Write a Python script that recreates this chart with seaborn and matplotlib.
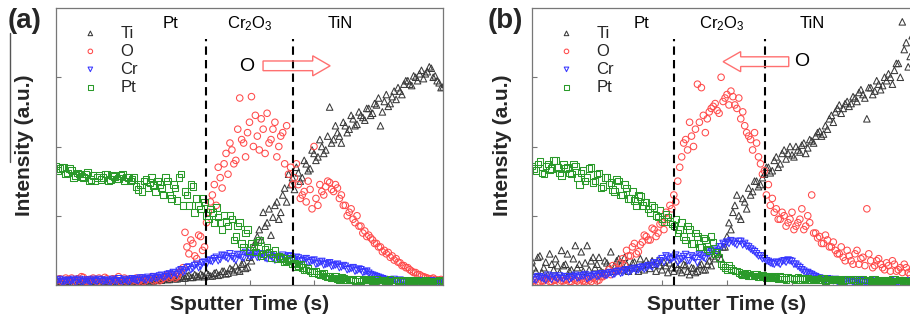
import numpy as np
import matplotlib
matplotlib.use("Agg")
import matplotlib.pyplot as plt
from matplotlib.patches import FancyArrow
from matplotlib.lines import Line2D
import seaborn as sns

# ---------------- data (intensity, a.u.) ----------------
series_names = ["Ti", "O", "Cr", "Pt"]
layer_labels = ["Pt", r"Cr$_2$O$_3$", "TiN"]

# panel (a), first pass of samples
ti_a = [0.04,0.06,0.03,0.05,0.04,0.07,0.03,0.05,0.04,0.06,
        0.05,0.03,0.06,0.04,0.05,0.07,0.04,0.06,0.05,0.04,
        0.06,0.05,0.07,0.06,0.08,0.06,0.09,0.07,0.10,0.08,
        0.11,0.09,0.12,0.10,0.14,0.11,0.13,0.16,0.12,0.15,
        0.13,0.18,0.15,0.20,0.17,0.22,0.28,0.20,0.32,0.26,
        0.35,0.62,0.80,1.05,0.90,0.72,1.15,0.95,1.30,1.20,
        1.45,1.38,1.62,1.55,1.75,1.68,1.90,1.85,2.00,1.95,
        2.57,2.10,2.20,2.05,2.30,2.25,2.40,2.32,2.45,2.38,
        2.55,2.48,2.60,2.30,2.65,2.58,2.72,2.68,2.80,2.90,
        2.95,2.88,3.00,3.05,2.98,3.08,3.13,3.02,2.92,2.86]
o_a = [0.06,0.09,0.05,0.08,0.10,0.06,0.07,0.11,0.05,0.08,
       0.07,0.10,0.06,0.09,0.05,0.08,0.12,0.07,0.06,0.09,
       0.08,0.05,0.10,0.07,0.09,0.06,0.11,0.08,0.12,0.10,
       0.15,0.12,0.20,0.76,0.45,0.60,0.38,0.70,0.55,1.05,
       1.30,1.15,1.55,1.75,1.60,1.95,1.80,2.70,2.05,2.20,
       2.72,2.45,1.95,2.25,2.48,2.10,2.35,2.00,2.20,2.30,
       1.70,1.55,1.45,1.30,1.20,1.38,2.00,1.15,1.35,1.42,
       1.48,1.35,1.40,1.30,1.15,1.05,0.95,1.00,0.85,0.78,
       0.72,0.65,0.60,0.55,0.50,0.47,0.42,0.38,0.32,0.28,
       0.25,0.20,0.18,0.15,0.12,0.10,0.09,0.08,0.07,0.06]
cr_a = [0.05,0.08,0.04,0.07,0.06,0.03,0.08,0.05,0.07,0.04,
        0.06,0.08,0.05,0.07,0.04,0.06,0.09,0.05,0.07,0.06,
        0.08,0.06,0.10,0.07,0.09,0.12,0.10,0.14,0.12,0.16,
        0.18,0.15,0.22,0.20,0.26,0.24,0.30,0.27,0.33,0.36,
        0.34,0.40,0.37,0.42,0.38,0.41,0.36,0.43,0.39,0.45,
        0.42,0.46,0.40,0.44,0.38,0.42,0.36,0.40,0.43,0.38,
        0.41,0.37,0.39,0.35,0.38,0.33,0.36,0.31,0.34,0.30,
        0.32,0.28,0.30,0.26,0.27,0.23,0.25,0.21,0.22,0.19,
        0.17,0.14,0.12,0.10,0.08,0.07,0.06,0.05,0.07,0.04,
        0.06,0.05,0.04,0.06,0.05,0.04,0.06,0.05,0.04,0.05]
pt_a = [1.72,1.68,1.70,1.62,1.66,1.58,1.60,1.55,1.63,1.52,
        1.50,1.58,1.55,1.60,1.52,1.57,1.54,1.60,1.56,1.50,
        1.55,1.38,1.35,1.52,1.48,1.44,1.50,1.40,1.55,1.30,
        1.45,1.22,1.60,1.35,1.15,1.42,1.25,1.10,1.20,0.95,
        1.05,1.12,0.90,1.00,0.85,0.95,0.70,0.90,0.55,0.80,
        0.60,0.48,0.65,0.45,0.55,0.40,0.50,0.42,0.38,0.35,
        0.38,0.32,0.28,0.25,0.22,0.20,0.18,0.16,0.15,0.13,
        0.12,0.10,0.09,0.11,0.08,0.09,0.07,0.08,0.06,0.08,
        0.07,0.06,0.08,0.05,0.07,0.06,0.05,0.07,0.06,0.05,
        0.06,0.05,0.07,0.05,0.06,0.04,0.06,0.05,0.07,0.06]

# panel (a), second pass of samples (interleaved in time)
ti_a2 = [0.05,0.03,0.06,0.04,0.07,0.05,0.04,0.06,0.03,0.05,
         0.07,0.04,0.05,0.06,0.03,0.05,0.06,0.04,0.07,0.05,
         0.04,0.07,0.05,0.08,0.06,0.09,0.07,0.10,0.08,0.11,
         0.09,0.12,0.10,0.13,0.11,0.15,0.12,0.14,0.18,0.13,
         0.17,0.14,0.20,0.16,0.24,0.19,0.22,0.30,0.24,0.40,
         0.55,0.70,0.65,0.85,1.10,0.98,1.20,1.05,1.40,1.60,
         1.55,1.70,1.50,1.80,1.65,1.95,1.80,2.10,1.90,2.15,
         2.05,2.30,2.15,2.35,2.20,2.45,2.30,2.50,2.42,2.55,
         2.45,2.62,2.70,2.50,2.75,2.62,2.80,2.85,2.75,2.95,
         2.90,3.02,2.95,3.10,3.05,3.15,3.00,2.95,2.85,2.90]
o_a2 = [0.08,0.05,0.10,0.07,0.06,0.09,0.12,0.06,0.08,0.10,
        0.05,0.08,0.11,0.06,0.09,0.07,0.05,0.10,0.08,0.06,
        0.10,0.07,0.05,0.09,0.12,0.08,0.06,0.10,0.14,0.12,
        0.10,0.18,0.25,0.55,0.65,0.42,0.72,0.50,0.90,1.20,
        1.45,1.70,1.40,1.90,2.05,1.75,2.25,2.10,1.85,2.35,
        2.00,2.15,2.40,1.90,2.05,2.25,1.85,2.15,1.75,1.60,
        1.45,1.75,1.25,1.35,1.50,1.10,1.25,1.45,1.30,1.50,
        1.38,1.45,1.25,1.15,1.00,1.10,0.90,0.85,0.75,0.70,
        0.68,0.60,0.55,0.48,0.45,0.40,0.36,0.33,0.28,0.25,
        0.22,0.18,0.15,0.13,0.11,0.09,0.10,0.07,0.08,0.05]
cr_a2 = [0.07,0.04,0.06,0.05,0.08,0.06,0.04,0.07,0.05,0.08,
         0.05,0.07,0.06,0.04,0.08,0.05,0.06,0.08,0.05,0.09,
         0.07,0.10,0.08,0.11,0.09,0.10,0.13,0.11,0.15,0.14,
         0.17,0.20,0.18,0.25,0.22,0.28,0.25,0.32,0.30,0.35,
         0.38,0.35,0.43,0.40,0.45,0.38,0.44,0.40,0.47,0.41,
         0.44,0.40,0.45,0.39,0.43,0.38,0.41,0.37,0.40,0.42,
         0.36,0.40,0.34,0.37,0.32,0.35,0.30,0.33,0.29,0.31,
         0.27,0.29,0.25,0.28,0.22,0.24,0.20,0.23,0.18,0.20,
         0.15,0.13,0.11,0.09,0.07,0.06,0.08,0.05,0.06,0.05,
         0.04,0.06,0.05,0.04,0.06,0.05,0.04,0.05,0.06,0.04]
pt_a2 = [1.65,1.70,1.60,1.68,1.55,1.62,1.57,1.60,1.50,1.58,
         1.55,1.52,1.60,1.50,1.58,1.53,1.58,1.50,1.55,1.52,
         1.42,1.45,1.50,1.40,1.55,1.35,1.45,1.30,1.50,1.25,
         1.40,1.55,1.15,1.30,1.45,1.05,1.15,1.25,1.00,1.10,
         0.90,0.98,0.80,0.92,1.00,0.65,0.85,0.60,0.75,0.50,
         0.55,0.62,0.42,0.52,0.48,0.45,0.38,0.40,0.33,0.36,
         0.30,0.27,0.30,0.22,0.24,0.18,0.20,0.15,0.17,0.12,
         0.10,0.12,0.08,0.10,0.07,0.09,0.06,0.09,0.07,0.05,
         0.08,0.06,0.05,0.07,0.06,0.08,0.05,0.06,0.07,0.05,
         0.07,0.06,0.05,0.06,0.07,0.05,0.06,0.04,0.05,0.07]

# panel (b), first pass of samples
ti_b = [0.35,0.20,0.42,0.25,0.15,0.30,0.38,0.18,0.28,0.45,
        0.22,0.57,0.30,0.20,0.57,0.35,0.25,0.40,0.18,0.32,
        0.48,0.26,0.38,0.22,0.30,0.25,0.33,0.20,0.28,0.35,
        0.24,0.30,0.36,0.22,0.28,0.32,0.20,0.25,0.18,0.28,
        0.15,0.24,0.20,0.30,0.22,0.35,0.42,0.50,0.38,0.55,
        0.90,1.05,1.30,0.95,1.20,1.40,1.35,1.50,1.45,1.60,
        1.70,1.65,1.85,1.75,1.95,1.90,1.88,2.00,1.92,2.05,
        1.98,2.08,2.15,2.22,2.18,2.25,2.45,2.50,2.60,2.55,
        2.65,2.62,2.70,2.78,2.75,2.40,2.85,2.80,2.90,2.88,
        2.95,3.00,3.10,3.20,3.80,3.50,3.30,3.60,3.75,3.90]
o_b = [0.05,0.08,0.04,0.06,0.09,0.05,0.07,0.04,0.06,0.08,
       0.05,0.07,0.04,0.06,0.08,0.05,0.09,0.07,0.12,0.18,
       0.15,0.25,0.22,0.38,0.50,0.42,0.60,0.48,0.62,0.70,
       0.65,0.80,0.75,0.90,1.05,1.15,1.30,1.50,1.85,2.10,
       2.35,2.00,2.90,2.85,2.20,2.50,2.58,2.52,3.00,2.70,
       2.60,2.72,2.55,2.40,2.30,2.15,1.95,2.05,1.75,1.65,
       1.45,1.25,1.10,0.95,1.00,0.90,1.05,0.85,0.95,0.80,
       1.00,1.30,0.75,0.70,0.60,0.65,0.55,0.50,0.45,0.40,
       0.50,0.35,0.45,0.30,0.40,1.10,0.35,0.28,0.38,0.25,
       0.32,0.20,0.30,0.22,0.18,0.25,0.15,0.20,0.17,0.15]
cr_b = [0.10,0.07,0.12,0.09,0.14,0.08,0.11,0.13,0.09,0.12,
        0.10,0.14,0.11,0.13,0.09,0.12,0.15,0.13,0.16,0.14,
        0.18,0.16,0.20,0.18,0.22,0.20,0.24,0.22,0.26,0.25,
        0.28,0.32,0.30,0.38,0.42,0.36,0.40,0.33,0.38,0.44,
        0.35,0.40,0.32,0.42,0.38,0.46,0.50,0.48,0.55,0.58,
        0.60,0.62,0.58,0.63,0.60,0.55,0.50,0.45,0.42,0.38,
        0.34,0.31,0.33,0.30,0.35,0.36,0.34,0.30,0.25,0.20,
        0.18,0.15,0.12,0.10,0.08,0.09,0.07,0.08,0.06,0.07,
        0.05,0.06,0.04,0.07,0.05,0.04,0.06,0.05,0.04,0.05,
        0.04,0.06,0.05,0.04,0.05,0.03,0.05,0.04,0.05,0.04]
pt_b = [1.72,1.65,1.78,1.60,1.75,1.68,1.80,1.62,1.74,1.70,
        1.60,1.72,1.45,1.65,1.55,1.70,1.50,1.62,1.42,1.55,
        1.48,1.35,1.50,1.30,1.40,1.25,1.22,1.30,1.15,1.20,
        1.05,1.12,0.98,0.95,1.02,0.92,0.85,0.75,0.90,0.65,
        0.80,0.60,0.70,0.55,0.65,0.50,0.62,0.48,0.30,0.25,
        0.28,0.22,0.20,0.16,0.15,0.14,0.13,0.15,0.12,0.13,
        0.12,0.11,0.10,0.12,0.09,0.11,0.10,0.08,0.10,0.09,
        0.10,0.08,0.09,0.07,0.10,0.08,0.07,0.09,0.08,0.06,
        0.08,0.07,0.09,0.06,0.08,0.07,0.06,0.08,0.07,0.06,
        0.07,0.06,0.08,0.05,0.07,0.06,0.05,0.07,0.06,0.05]

# panel (b), second pass of samples (interleaved in time)
ti_b2 = [0.25,0.40,0.18,0.33,0.45,0.22,0.28,0.50,0.30,0.20,
         0.38,0.25,0.48,0.32,0.22,0.40,0.30,0.20,0.35,0.27,
         0.20,0.35,0.28,0.40,0.20,0.32,0.25,0.38,0.22,0.30,
         0.35,0.20,0.28,0.33,0.18,0.25,0.30,0.22,0.30,0.20,
         0.25,0.18,0.28,0.22,0.30,0.28,0.38,0.45,0.55,0.70,
         0.80,1.15,1.00,1.25,1.10,1.30,1.50,1.42,1.55,1.70,
         1.62,1.80,1.70,1.90,1.82,2.00,1.85,1.95,2.02,1.90,
         2.10,2.05,2.20,2.15,2.30,2.40,2.35,2.55,2.48,2.62,
         2.58,2.72,2.65,2.82,2.70,2.85,2.75,2.95,2.82,3.00,
         3.05,2.90,3.20,3.00,3.40,3.15,3.60,3.40,3.70,3.85]
o_b2 = [0.07,0.04,0.06,0.09,0.05,0.07,0.10,0.06,0.08,0.05,
        0.09,0.06,0.08,0.05,0.07,0.10,0.06,0.12,0.15,0.22,
        0.28,0.20,0.32,0.28,0.42,0.55,0.45,0.58,0.72,0.65,
        0.82,0.70,0.88,0.80,0.95,1.10,1.20,1.70,2.05,1.95,
        2.15,2.25,2.35,2.45,2.40,2.55,2.62,2.48,2.65,2.75,
        2.80,2.60,2.70,2.50,2.20,2.10,2.20,1.85,1.60,1.30,
        1.15,1.05,0.95,1.05,0.85,0.95,0.80,0.90,1.10,0.85,
        0.90,0.75,0.68,0.60,0.72,0.55,0.62,0.45,0.55,0.35,
        0.42,0.30,0.50,0.38,0.28,0.45,0.25,0.35,0.30,0.22,
        0.28,0.35,0.20,0.25,0.30,0.18,0.22,0.15,0.20,0.12]
cr_b2 = [0.08,0.12,0.10,0.07,0.11,0.13,0.09,0.10,0.12,0.08,
         0.12,0.10,0.13,0.15,0.11,0.14,0.12,0.16,0.14,0.17,
         0.15,0.19,0.17,0.21,0.19,0.23,0.21,0.25,0.23,0.28,
         0.26,0.30,0.35,0.33,0.40,0.38,0.43,0.36,0.41,0.35,
         0.42,0.38,0.44,0.40,0.45,0.48,0.52,0.55,0.60,0.62,
         0.64,0.60,0.63,0.58,0.56,0.52,0.48,0.42,0.38,0.35,
         0.32,0.30,0.32,0.34,0.33,0.35,0.30,0.27,0.22,0.18,
         0.16,0.13,0.10,0.09,0.07,0.08,0.06,0.05,0.07,0.05,
         0.06,0.04,0.05,0.06,0.04,0.05,0.03,0.05,0.04,0.06,
         0.05,0.03,0.04,0.05,0.04,0.06,0.04,0.03,0.05,0.04]
pt_b2 = [1.68,1.75,1.62,1.72,1.66,1.80,1.70,1.58,1.68,1.62,
         1.75,1.55,1.62,1.50,1.68,1.48,1.60,1.40,1.55,1.45,
         1.38,1.52,1.30,1.45,1.25,1.35,1.15,1.28,1.20,1.10,
         1.15,1.00,1.08,0.92,0.98,0.88,0.95,0.80,0.70,0.85,
         0.60,0.75,0.55,0.68,0.52,0.70,0.45,0.40,0.28,0.22,
         0.24,0.20,0.18,0.15,0.17,0.13,0.15,0.12,0.14,0.11,
         0.10,0.12,0.09,0.11,0.08,0.10,0.09,0.11,0.08,0.10,
         0.07,0.09,0.08,0.10,0.06,0.08,0.09,0.07,0.06,0.08,
         0.07,0.09,0.06,0.08,0.05,0.07,0.08,0.06,0.05,0.07,
         0.06,0.08,0.05,0.07,0.06,0.05,0.07,0.06,0.08,0.05]

# ---------------- style ----------------
sns.set_theme(style="white")
plt.rcParams["font.family"] = ["Liberation Sans", "DejaVu Sans"]
plt.rcParams["mathtext.fontset"] = "custom"
plt.rcParams["mathtext.rm"] = "Liberation Sans"
plt.rcParams["mathtext.default"] = "regular"

colors = {"Ti": "#3a3a3a", "O": "#ff4a4a", "Cr": "#3535ff", "Pt": "#2a9a2a"}
markers = {"Ti": "^", "O": "o", "Cr": "v", "Pt": "s"}

W, H = 910, 320
fig = plt.figure(figsize=(W / 100, H / 100), dpi=100)

def px_axes(left, right, top, bottom):
    return fig.add_axes([left / W, 1 - bottom / H, (right - left) / W, (bottom - top) / H])

ax_a = px_axes(56, 443, 8, 285)
ax_b = px_axes(532, 922, 8, 285)

def sample_times(values, offset):
    # uniform sputter-time sampling over the 0..6 axis span
    return np.linspace(0, 6, len(values)) + offset

panels = [
    (ax_a, {"Ti": (ti_a, ti_a2), "O": (o_a, o_a2), "Cr": (cr_a, cr_a2), "Pt": (pt_a, pt_a2)},
     [2.326, 3.674], [1.77, 3.0, 4.4], (3.21, 4.25, 3.165), (2.96, 3.16)),
    (ax_b, {"Ti": (ti_b, ti_b2), "O": (o_b, o_b2), "Cr": (cr_b, cr_b2), "Pt": (pt_b, pt_b2)},
     [2.185, 3.585], [1.69, 2.92, 4.31], (3.95, 2.94, 3.225), (4.15, 3.23)),
]

for ax, data, dashes, lab_x, arrow, o_pos in panels:
    for name in series_names:
        y1, y2 = data[name]
        xs = np.concatenate([sample_times(y1, 0.0), sample_times(y2, 0.03)])
        ys = np.concatenate([np.asarray(y1), np.asarray(y2)])
        sns.scatterplot(x=xs, y=ys, ax=ax, marker=markers[name],
                        color=colors[name], facecolor="none", edgecolor=colors[name],
                        s=22, linewidth=0.75, label=name, legend=False)
    ax.set_xlim(0, 6)
    ax.set_ylim(0, 4)
    ax.set_xticks([1, 2, 3, 4, 5])
    ax.set_yticks([1, 2, 3])
    ax.set_xticklabels([])
    ax.set_yticklabels([])
    ax.tick_params(direction="in", length=3.5, width=0.8, color="#777777",
                   bottom=True, left=True, top=False, right=False)
    for sp in ax.spines.values():
        sp.set_color("#777777")
        sp.set_linewidth(0.9)
    ax.set_xlabel("")
    ax.set_ylabel("")
    for xv in dashes:
        ax.vlines(xv, 0, 3.55, colors="black", linestyles=(0, (4, 2.5)), linewidth=1.5, zorder=5)
    for lx, lt in zip(lab_x, layer_labels):
        ax.text(lx, 3.77, lt, ha="center", va="center", fontsize=12, color="black")
    x0, x1, yc = arrow
    ax.add_patch(FancyArrow(x0, yc, x1 - x0, 0, width=0.14, head_width=0.29,
                            head_length=0.27, length_includes_head=True,
                            facecolor="none", edgecolor="#ff7070", linewidth=1.0, zorder=6))
    ax.text(o_pos[0], o_pos[1], "O", ha="center", va="center", fontsize=14, color="black")
    ax.legend(loc="upper left", bbox_to_anchor=(0.05, 0.96), frameon=False, fontsize=12,
              markerscale=0.7, handletextpad=1.3, labelspacing=0.18, handlelength=1.0,
              borderaxespad=0)
    ax.text(0.5, -0.072, "Sputter Time (s)", transform=ax.transAxes, ha="center",
            va="center", fontsize=15, fontweight="bold")

fig.text(25 / W, 1 - 145 / H, "Intensity (a.u.)", rotation=90, ha="center",
         va="center", fontsize=15, fontweight="bold")
fig.text(503 / W, 1 - 145 / H, "Intensity (a.u.)", rotation=90, ha="center",
         va="center", fontsize=15, fontweight="bold")
fig.text(25 / W, 1 - 21 / H, "(a)", ha="center", va="center", fontsize=20, fontweight="bold")
fig.text(505 / W, 1 - 21 / H, "(b)", ha="center", va="center", fontsize=20, fontweight="bold")
fig.add_artist(Line2D([10 / W, 10 / W], [1 - 33 / H, 1 - 162 / H], color="#555555", linewidth=1.0))

fig.savefig("out.png", dpi=100)
